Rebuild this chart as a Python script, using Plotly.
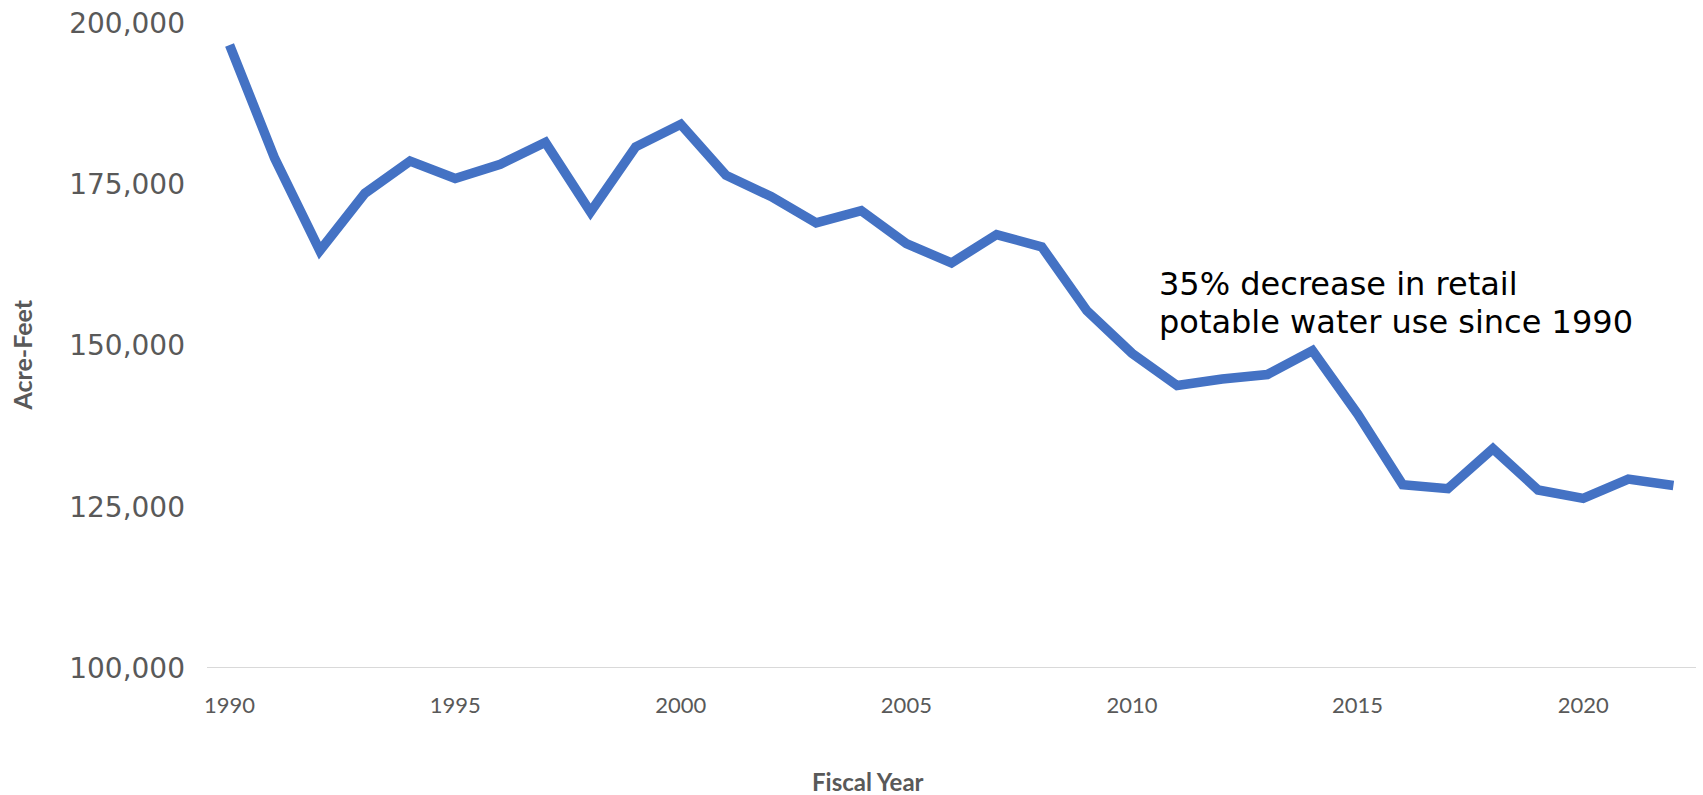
import plotly.graph_objects as go

years = list(range(1990, 2023))
acre_feet = [196600, 179000, 164700, 173600, 178600, 175900, 178100, 181500,
             170700, 180800, 184300, 176400, 173100, 169000, 170900, 165800,
             162800, 167200, 165300, 155400, 148800, 143800, 144800, 145500,
             149200, 139400, 128400, 127800, 134000, 127600, 126300, 129300,
             128300]
y_ticks = [100000, 125000, 150000, 175000, 200000]
x_ticks = [1990, 1995, 2000, 2005, 2010, 2015, 2020]
note_lines = ["35% decrease in retail", "potable water use since 1990"]
note_x = 2010.55
note_y = [159600, 153600]

fig = go.Figure()
fig.add_trace(go.Scatter(
    x=years, y=acre_feet, mode="lines",
    line=dict(color="#4472C4", width=9.5, shape="linear"),
    hoverinfo="x+y", showlegend=False,
))

annotations = [
    dict(text=t, xref="x", yref="y", x=note_x, y=yy,
         xanchor="left", yanchor="middle", align="left", showarrow=False,
         font=dict(family="DejaVu Sans, Verdana", size=32, color="black"))
    for t, yy in zip(note_lines, note_y)
]
annotations += [
    dict(text="<b>Acre-Feet</b>", xref="paper", yref="paper",
         x=-0.124, y=0.485, textangle=-90, showarrow=False,
         xanchor="center", yanchor="middle",
         font=dict(family="Lato, Roboto, Open Sans", size=25, color="#595959")),
    dict(text="<b>Fiscal Year</b>", xref="paper", yref="paper",
         x=0.444, y=-0.176, xanchor="center", yanchor="middle", showarrow=False,
         font=dict(family="Lato, Roboto, Open Sans", size=24, color="#595959")),
]

fig.update_layout(
    width=1703, height=795,
    margin=dict(l=207, r=7, t=21, b=127),
    paper_bgcolor="white", plot_bgcolor="white",
    xaxis=dict(
        range=[1989.5, 2022.5], tickmode="array", tickvals=x_ticks,
        ticktext=[str(v) for v in x_ticks],
        showgrid=False, zeroline=False, showline=False, ticks="",
        tickfont=dict(family="Lato, Roboto, Open Sans", size=22, color="#595959"),
        ticklabelstandoff=22,
    ),
    yaxis=dict(
        range=[100000, 200000], tickmode="array", tickvals=y_ticks,
        ticktext=[f"{v:,}" for v in y_ticks],
        showgrid=False, zeroline=False, showline=False, ticks="",
        tickfont=dict(family="DejaVu Sans, Verdana", size=28, color="#595959"),
        ticklabelstandoff=21,
    ),
    shapes=[dict(type="line", xref="paper", yref="y", x0=0, x1=1,
                 y0=y_ticks[0], y1=y_ticks[0],
                 line=dict(color="#D9D9D9", width=2), layer="below")],
    annotations=annotations,
)

fig.write_html(
    "out.html",
    config={"displayModeBar": False},
    post_script="document.body.style.margin='0';document.body.style.overflow='hidden';",
)
